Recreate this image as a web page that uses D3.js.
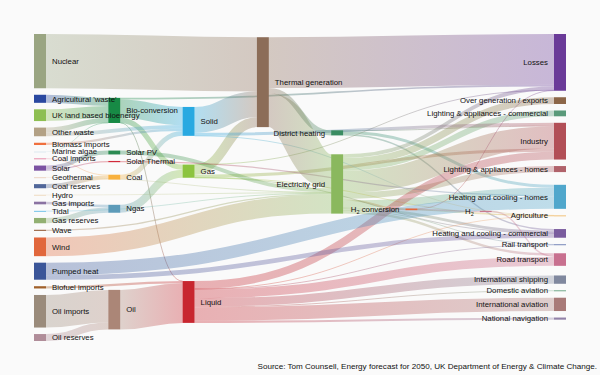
<!DOCTYPE html>
<html lang="en">
<head>
<meta charset="UTF-8">
<title>UK energy flows 2050</title>
<script src="https://d3js.org/d3.v7.min.js"></script>
<style>
  body { margin: 0; background: #fafafa; }
  svg { display: block; font-family: "Liberation Sans", Arial, sans-serif; }
  .label { font-size: 7.8px; fill: #111; }
  .source { font-size: 8.1px; fill: #111; }
</style>
</head>
<body>
<div id="chart"></div>
<script>
// node names, in the order of the original energy.json
var nodeNames = [
  "Agricultural 'waste'", "Bio-conversion", "Liquid", "Losses", "Solid", "Gas",
  "Biofuel imports", "Biomass imports", "Coal imports", "Coal", "Coal reserves",
  "District heating", "Industry", "Heating and cooling - commercial",
  "Heating and cooling - homes", "Electricity grid", "Over generation / exports",
  "H2 conversion", "Road transport", "Agriculture", "Rail transport",
  "Lighting & appliances - commercial", "Lighting & appliances - homes",
  "Gas imports", "Ngas", "Gas reserves", "Thermal generation", "Geothermal", "H2",
  "Hydro", "International shipping", "Domestic aviation", "International aviation",
  "National navigation", "Marine algae", "Nuclear", "Oil imports", "Oil",
  "Oil reserves", "Other waste", "Pumped heat", "Solar PV", "Solar Thermal",
  "Solar", "Tidal", "UK land based bioenergy", "Wave", "Wind"
];

var linkSources = [
  "Agricultural 'waste'", "Bio-conversion", "Bio-conversion", "Bio-conversion", "Bio-conversion",
  "Biofuel imports", "Biomass imports", "Coal imports", "Coal reserves", "Coal",
  "District heating", "District heating", "District heating",
  "Electricity grid", "Electricity grid", "Electricity grid", "Electricity grid", "Electricity grid",
  "Electricity grid", "Electricity grid", "Electricity grid", "Electricity grid", "Electricity grid",
  "Electricity grid",
  "Gas imports", "Gas reserves", "Gas", "Gas", "Gas", "Gas", "Gas",
  "Geothermal", "H2 conversion", "H2 conversion", "H2", "Hydro",
  "Liquid", "Liquid", "Liquid", "Liquid", "Liquid", "Liquid", "Liquid", "Liquid",
  "Marine algae", "Ngas", "Nuclear", "Oil imports", "Oil reserves", "Oil",
  "Other waste", "Other waste", "Pumped heat", "Pumped heat", "Solar PV", "Solar Thermal",
  "Solar", "Solar", "Solid", "Solid", "Solid",
  "Thermal generation", "Thermal generation", "Thermal generation",
  "Tidal", "UK land based bioenergy", "Wave", "Wind"
];

var linkTargets = [
  "Bio-conversion", "Liquid", "Losses", "Solid", "Gas",
  "Liquid", "Solid", "Coal", "Coal", "Solid",
  "Industry", "Heating and cooling - commercial", "Heating and cooling - homes",
  "Over generation / exports", "Heating and cooling - homes", "H2 conversion", "Industry", "Road transport",
  "Agriculture", "Heating and cooling - commercial", "Losses", "Rail transport", "Lighting & appliances - commercial",
  "Lighting & appliances - homes",
  "Ngas", "Ngas", "Heating and cooling - commercial", "Losses", "Thermal generation", "Agriculture", "Industry",
  "Electricity grid", "H2", "Losses", "Road transport", "Electricity grid",
  "Industry", "International shipping", "Road transport", "Domestic aviation", "International aviation",
  "Agriculture", "National navigation", "Rail transport",
  "Bio-conversion", "Gas", "Thermal generation", "Oil", "Oil", "Liquid",
  "Solid", "Bio-conversion", "Heating and cooling - homes", "Heating and cooling - commercial",
  "Electricity grid", "Heating and cooling - homes",
  "Solar Thermal", "Solar PV", "Agriculture", "Thermal generation", "Industry",
  "Electricity grid", "Losses", "District heating",
  "Electricity grid", "Bio-conversion", "Electricity grid", "Electricity grid"
];

var linkValues = [
  124.729, 0.597, 26.862, 280.322, 81.144,
  35, 35, 11.606, 63.965, 75.571,
  10.639, 22.505, 46.184,
  104.453, 113.726, 27.14, 342.165, 37.797,
  4.412, 40.858, 56.691, 7.863, 90.008,
  93.494,
  40.719, 82.233, 0.129, 1.401, 151.891, 2.096, 48.58,
  7.013, 20.897, 6.242, 20.897, 6.995,
  121.066, 128.69, 135.835, 14.458, 206.267,
  3.64, 33.218, 4.413,
  4.375, 122.952, 839.978, 504.287, 107.703, 611.99,
  56.587, 77.81, 193.026, 70.672, 59.901, 19.263,
  19.263, 59.901, 0.882, 400.12, 46.477,
  525.531, 787.129, 79.329,
  9.452, 182.01, 19.013, 289.366
];

var nodeColors = {
  "Agricultural 'waste'": "#2a48a0", "Bio-conversion": "#178a45", "Liquid": "#c8262f",
  "Losses": "#6a3a98", "Solid": "#29a9e1", "Gas": "#8cc43f", "Biofuel imports": "#a0602a",
  "Biomass imports": "#f0703e", "Coal imports": "#e88fab", "Coal": "#f8b13f",
  "Coal reserves": "#51679a", "District heating": "#3a8c62", "Industry": "#b24f57",
  "Heating and cooling - commercial": "#7a5c9e", "Heating and cooling - homes": "#50a7cc",
  "Electricity grid": "#8ab85e", "Over generation / exports": "#8c6648",
  "H2 conversion": "#e26a3e", "Road transport": "#c8708f", "Agriculture": "#f2c27a",
  "Rail transport": "#7687b8", "Lighting & appliances - commercial": "#5a9a7a",
  "Lighting & appliances - homes": "#b0626a", "Gas imports": "#8a72a2", "Ngas": "#5d9bb9",
  "Gas reserves": "#92b072", "Thermal generation": "#8c6d58", "Geothermal": "#ecd4c4",
  "H2": "#c97a90", "Hydro": "#eedabf", "International shipping": "#80889e",
  "Domestic aviation": "#72a98a", "International aviation": "#a87a78",
  "National navigation": "#9282a8", "Marine algae": "#dde8ef", "Nuclear": "#9aa582",
  "Oil imports": "#9a8b7b", "Oil": "#ab8677", "Oil reserves": "#b08d99",
  "Other waste": "#b3a185", "Pumped heat": "#3b5699", "Solar PV": "#2b8b52",
  "Solar Thermal": "#d12a3a", "Solar": "#7b52a2", "Tidal": "#72c2e8",
  "UK land based bioenergy": "#8ebf52", "Wave": "#a07052", "Wind": "#e1673c"
};

var width = 600, height = 375;
var ext = {x0: 34, y0: 34, x1: 566, y1: 341};
var nodeWidth = 12, nodePadding = 6.5, iterations = 8;

function buildGraph() {
  var nodes = nodeNames.map(function(name, i) { return {name: name, index: i}; });
  var byName = new Map(nodes.map(function(d) { return [d.name, d]; }));
  var links = linkValues.map(function(v, i) {
    return {source: byName.get(linkSources[i]), target: byName.get(linkTargets[i]), value: v, index: i};
  });
  return {nodes: nodes, links: links};
}

// small port of the d3-sankey layout (justify alignment)
function sankey(graph) {
  var nodes = graph.nodes, links = graph.links, py, columns;

  nodes.forEach(function(n) { n.sourceLinks = []; n.targetLinks = []; });
  links.forEach(function(l) { l.source.sourceLinks.push(l); l.target.targetLinks.push(l); });
  nodes.forEach(function(n) {
    n.value = Math.max(d3.sum(n.sourceLinks, function(d) { return d.value; }),
                       d3.sum(n.targetLinks, function(d) { return d.value; }));
  });

  var current = new Set(nodes), next, depth = 0;
  while (current.size) {
    next = new Set();
    current.forEach(function(n) {
      n.depth = depth;
      n.sourceLinks.forEach(function(l) { next.add(l.target); });
    });
    depth++;
    current = next;
  }

  var nCols = d3.max(nodes, function(d) { return d.depth; }) + 1;
  var kx = (ext.x1 - ext.x0 - nodeWidth) / (nCols - 1);
  columns = d3.range(nCols).map(function() { return []; });
  nodes.forEach(function(n) {
    var i = n.sourceLinks.length ? n.depth : nCols - 1;
    n.layer = i;
    n.x0 = ext.x0 + i * kx;
    n.x1 = n.x0 + nodeWidth;
    columns[i].push(n);
  });

  py = Math.min(nodePadding, (ext.y1 - ext.y0) / (d3.max(columns, function(c) { return c.length; }) - 1));
  var ky = d3.min(columns, function(c) {
    return (ext.y1 - ext.y0 - (c.length - 1) * py) / d3.sum(c, function(d) { return d.value; });
  });

  function byY(a, b) { return a.y0 - b.y0; }
  function bySource(a, b) { return byY(a.source, b.source) || a.index - b.index; }
  function byTarget(a, b) { return byY(a.target, b.target) || a.index - b.index; }

  function reorderLinks(col) {
    col.forEach(function(n) { n.sourceLinks.sort(byTarget); n.targetLinks.sort(bySource); });
  }
  function reorderNodeLinks(n) {
    n.targetLinks.forEach(function(l) { l.source.sourceLinks.sort(byTarget); });
    n.sourceLinks.forEach(function(l) { l.target.targetLinks.sort(bySource); });
  }

  columns.forEach(function(col) {
    var y = ext.y0;
    col.forEach(function(n) {
      n.y0 = y;
      n.y1 = y + n.value * ky;
      y = n.y1 + py;
      n.sourceLinks.forEach(function(l) { l.width = l.value * ky; });
    });
    y = (ext.y1 - y + py) / (col.length + 1);
    col.forEach(function(n, i) { n.y0 += y * (i + 1); n.y1 += y * (i + 1); });
    reorderLinks(col);
  });

  function targetTop(source, target) {
    var y = source.y0 - (source.sourceLinks.length - 1) * py / 2;
    for (var i = 0; i < source.sourceLinks.length; i++) {
      var l = source.sourceLinks[i];
      if (l.target === target) break;
      y += l.width + py;
    }
    for (var j = 0; j < target.targetLinks.length; j++) {
      var k = target.targetLinks[j];
      if (k.source === source) break;
      y -= k.width;
    }
    return y;
  }
  function sourceTop(source, target) {
    var y = target.y0 - (target.targetLinks.length - 1) * py / 2;
    for (var i = 0; i < target.targetLinks.length; i++) {
      var l = target.targetLinks[i];
      if (l.source === source) break;
      y += l.width + py;
    }
    for (var j = 0; j < source.sourceLinks.length; j++) {
      var k = source.sourceLinks[j];
      if (k.target === target) break;
      y -= k.width;
    }
    return y;
  }

  function pushDown(col, y, i, a) {
    for (; i < col.length; ++i) {
      var n = col[i], dy = (y - n.y0) * a;
      if (dy > 1e-6) { n.y0 += dy; n.y1 += dy; }
      y = n.y1 + py;
    }
  }
  function pushUp(col, y, i, a) {
    for (; i >= 0; --i) {
      var n = col[i], dy = (n.y1 - y) * a;
      if (dy > 1e-6) { n.y0 -= dy; n.y1 -= dy; }
      y = n.y0 - py;
    }
  }
  function resolveCollisions(col, a) {
    var i = col.length >> 1, s = col[i];
    pushUp(col, s.y0 - py, i - 1, a);
    pushDown(col, s.y1 + py, i + 1, a);
    pushUp(col, ext.y1, col.length - 1, a);
    pushDown(col, ext.y0, 0, a);
  }

  function relaxLeftToRight(alpha, beta) {
    for (var i = 1; i < columns.length; ++i) {
      var col = columns[i];
      col.forEach(function(t) {
        var y = 0, w = 0;
        t.targetLinks.forEach(function(l) {
          var v = l.value * (t.layer - l.source.layer);
          y += targetTop(l.source, t) * v;
          w += v;
        });
        if (!(w > 0)) return;
        var dy = (y / w - t.y0) * alpha;
        t.y0 += dy; t.y1 += dy;
        reorderNodeLinks(t);
      });
      col.sort(byY);
      resolveCollisions(col, beta);
    }
  }
  function relaxRightToLeft(alpha, beta) {
    for (var i = columns.length - 2; i >= 0; --i) {
      var col = columns[i];
      col.forEach(function(s) {
        var y = 0, w = 0;
        s.sourceLinks.forEach(function(l) {
          var v = l.value * (l.target.layer - s.layer);
          y += sourceTop(s, l.target) * v;
          w += v;
        });
        if (!(w > 0)) return;
        var dy = (y / w - s.y0) * alpha;
        s.y0 += dy; s.y1 += dy;
        reorderNodeLinks(s);
      });
      col.sort(byY);
      resolveCollisions(col, beta);
    }
  }

  for (var it = 0; it < iterations; ++it) {
    var alpha = Math.pow(0.99, it);
    var beta = Math.max(1 - alpha, (it + 1) / iterations);
    relaxRightToLeft(alpha, beta);
    relaxLeftToRight(alpha, beta);
  }

  nodes.forEach(function(n) {
    var a = n.y0, b = n.y0;
    n.sourceLinks.forEach(function(l) { l.y0 = a + l.width / 2; a += l.width; });
    n.targetLinks.forEach(function(l) { l.y1 = b + l.width / 2; b += l.width; });
  });
  return graph;
}

var graph = sankey(buildGraph());

var svg = d3.select("#chart").append("svg")
  .attr("width", width)
  .attr("height", height);

svg.append("rect").attr("width", width).attr("height", height).attr("fill", "#fafafa");

var defs = svg.append("defs");
var linkPath = d3.linkHorizontal()
  .source(function(d) { return [d.source.x1, d.y0]; })
  .target(function(d) { return [d.target.x0, d.y1]; });

var grads = defs.selectAll("linearGradient")
  .data(graph.links)
  .join("linearGradient")
  .attr("id", function(d) { return "lg" + d.index; })
  .attr("gradientUnits", "userSpaceOnUse")
  .attr("x1", function(d) { return d.source.x1; })
  .attr("x2", function(d) { return d.target.x0; });
grads.append("stop").attr("offset", "0%").attr("stop-color", function(d) { return nodeColors[d.source.name]; });
grads.append("stop").attr("offset", "100%").attr("stop-color", function(d) { return nodeColors[d.target.name]; });

svg.append("g")
  .attr("fill", "none")
  .attr("stroke-opacity", 0.35)
  .selectAll("path")
  .data(graph.links)
  .join("path")
  .attr("d", linkPath)
  .attr("stroke", function(d) { return "url(#lg" + d.index + ")"; })
  .attr("stroke-width", function(d) { return Math.max(1, d.width); });

svg.append("g")
  .selectAll("rect")
  .data(graph.nodes)
  .join("rect")
  .attr("x", function(d) { return d.x0; })
  .attr("y", function(d) { return d.y0; })
  .attr("width", function(d) { return d.x1 - d.x0; })
  .attr("height", function(d) { return Math.max(1, d.y1 - d.y0); })
  .attr("fill", function(d) { return nodeColors[d.name]; });

var labels = svg.append("g")
  .selectAll("text")
  .data(graph.nodes)
  .join("text")
  .attr("class", "label")
  .attr("x", function(d) { return d.x0 < width / 2 ? d.x1 + 6 : d.x0 - 6; })
  .attr("y", function(d) { return (d.y0 + d.y1) / 2; })
  .attr("dy", "0.35em")
  .attr("text-anchor", function(d) { return d.x0 < width / 2 ? "start" : "end"; });

// H2 names get a subscript 2
labels.each(function(d) {
  var t = d3.select(this);
  if (d.name.indexOf("H2") === 0) {
    t.append("tspan").text("H");
    t.append("tspan").attr("font-size", "5.5px").attr("dy", "2").text("2");
    t.append("tspan").attr("dy", "-2").text(d.name.slice(2));
  } else {
    t.text(d.name);
  }
});

svg.append("text")
  .attr("class", "source")
  .attr("x", 597)
  .attr("y", 369)
  .attr("text-anchor", "end")
  .text("Source: Tom Counsell, Energy forecast for 2050, UK Department of Energy & Climate Change.");
</script>
</body>
</html>
